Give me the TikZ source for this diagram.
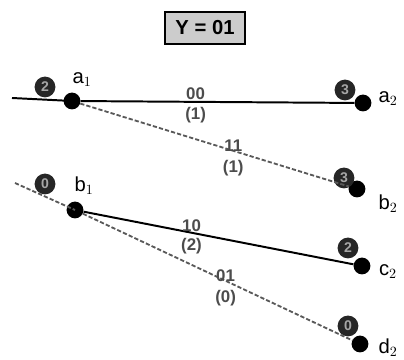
\documentclass[tikz,border=0pt]{standalone}
\usepackage{fontspec}
\setsansfont{Liberation Sans}
\usepackage{tikz}
\usetikzlibrary{positioning,calc}
\tikzset{
  statedot/.style={circle,fill=black,minimum size=0.42cm,inner sep=0pt},
  metricbox/.style={circle,fill=black!85,text=black!35,minimum size=0.52cm,
    inner sep=0pt,font=\sffamily\bfseries\normalsize},
  statelbl/.style={font=\sffamily\Large,inner sep=1pt},
  branchlbl/.style={font=\sffamily\bfseries\large,text=black!70,inner sep=1pt},
  inbox/.style={rectangle,draw=black,line width=1.5pt,fill=black!20,
    minimum width=2cm,minimum height=0.78cm,font=\sffamily\bfseries\Large},
  solidbr/.style={line width=1.4pt,draw=black},
  dashbr/.style={line width=1.3pt,draw=black!65,dash pattern=on 3pt off 1.5pt},
}
\begin{document}
\begin{tikzpicture}[x=0.025cm,y=-0.025cm]
  \useasboundingbox (0,0) rectangle (404,360);
  % received symbol
  \node[inbox] (rx) at (205,28) {Y = 01};
  % ends of the lines on the left
  \coordinate (aL) at (12,98);
  \coordinate (bL) at (15,183);
  % states
  \node[statedot] (a1) at (72,101) {};
  \node[statedot] (b1) at (75,210) {};
  \node[statedot] (a2) at (363,103) {};
  \node[statedot] (b2) at (357,189) {};
  \node[statedot] (c2) at (362,266) {};
  \node[statedot] (d2) at (360,344) {};
  % path metrics
  \node[metricbox] (ma1) at (45,87)  {2};
  \node[metricbox] (mb1) at (45,184) {0};
  \node[metricbox] (ma2) at (345,90) {3};
  \node[metricbox] (mb2) at (344,178) {3};
  \node[metricbox] (mc2) at (348,248) {2};
  \node[metricbox] (md2) at (348,326) {0};
  % state names
  \node[statelbl] at (82,80)  {a$_1$};
  \node[statelbl] at (84,186) {b$_1$};
  \node[statelbl] at (388,99)  {a$_2$};
  \node[statelbl] at (388,204) {b$_2$};
  \node[statelbl] at (388,272) {c$_2$};
  \node[statelbl] at (388,348) {d$_2$};
  % branches
  \draw[solidbr] (aL) -- (a1.center);
  \draw[dashbr]  (bL) -- (b1.center);
  \draw[solidbr] (a1) -- node[branchlbl,pos=0.42,above=0pt]{00}
    node[branchlbl,pos=0.42,below=2pt]{(1)} (a2);
  \draw[dashbr]  (a1) -- node[branchlbl,pos=0.57,above=-2pt]{11}
    node[branchlbl,pos=0.57,below=5pt]{(1)} (b2);
  \draw[solidbr] (b1) -- node[branchlbl,pos=0.4,above=-1pt]{10}
    node[branchlbl,pos=0.4,below=2pt]{(2)} (c2);
  \draw[dashbr]  (b1) -- node[branchlbl,pos=0.53,above=-2pt]{01}
    node[branchlbl,pos=0.53,below=5pt]{(0)} (d2);
\end{tikzpicture}
\end{document}
